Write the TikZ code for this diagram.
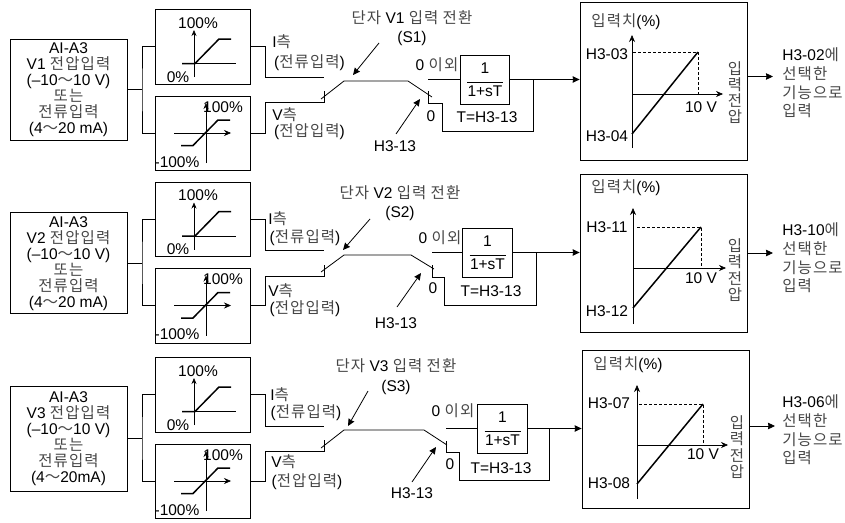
\documentclass[tikz,border=0pt]{standalone}
\usepackage{fontspec}
\setmainfont{Liberation Sans}
\newfontfamily\krfont[Scale=1.0,LetterSpace=7]{Noto Sans CJK KR}
\newcommand{\kr}[1]{{\krfont\color{black!72}#1}}
\newcommand{\wave}{{\krfont\color{black!72}～}}
\newcommand{\lagtext}{1\\[-7pt]\rule{36pt}{0.8pt}\\[-2.5pt]1+sT}
\usetikzlibrary{positioning, arrows.meta}

\begin{document}
\begin{tikzpicture}[
        x=1pt, y=-1pt, line width=0.8pt,
        lbl/.style={inner sep=0pt, align=center, font=\fontsize{15.5}{16}\selectfont},
        srcbox/.style={rectangle, draw, minimum width=117pt, minimum height=101pt, inner sep=0pt, align=center, font=\fontsize{15.5}{16}\selectfont},
        gainbox/.style={rectangle, draw, minimum width=95pt, minimum height=74.5pt},
        lagbox/.style={rectangle, draw, minimum width=49.5pt, minimum height=49pt, inner sep=0pt, align=center, font=\fontsize{15.5}{16}\selectfont},
        graphbox/.style={rectangle, draw, minimum width=167pt, minimum height=158pt},
        vertlbl/.style={lbl, font=\fontsize{15.5}{16.2}\selectfont},
        outlbl/.style={lbl, align=left, anchor=west, font=\fontsize{15.5}{18.7}\selectfont},
        wire/.style={line width=0.8pt},
        axis/.style={line width=0.6pt},
        curve/.style={line width=1.5pt},
        arr/.style={-{Stealth[length=7pt, width=6.5pt, inset=0.5pt]}, line width=0.8pt},
        guide/.style={densely dashed, line width=0.7pt},
    ]
        \useasboundingbox (0,0) rectangle (845,522);

        % Gain boxes of the three rows
        \foreach \r/\dy in {1/0,2/172.5,3/348}{
            \begin{scope}[shift={(0,\dy)}]
                \node[gainbox] (up\r) at (203,46.75) {};
                \node[gainbox] (dn\r) at (203,133.25) {};
                \draw[axis, -{Stealth[length=6pt, width=5pt]}] (194,77) -- (194,30);
                \draw[axis] (182,63.5) -- (236,63.5);
                \draw[curve] (182,63.5) -- (195,63.5) -- (219,39) -- (231,39);
                \node[lbl] (upmax\r) at (198,23) {100\%};
                \node[lbl] (upmin\r) at (178,77) {0\%};
                \draw[axis, -{Stealth[length=6pt, width=5pt]}] (206,163) -- (206,103);
                \draw[axis, -{Stealth[length=7pt, width=6pt]}] (174,133) -- (231,133);
                \draw[curve] (181,145.5) -- (193,145.5) -- (218,120) -- (230,120);
                \node[lbl] (dnmax\r) at (223,107) {100\%};
                \node[lbl] (dnmin\r) at (177,162) {-100\%};
            \end{scope}
        }

        % Row 1
        \node[srcbox] (src1) at (68.5,89.75) {AI-A3\\V1 \kr{전압입력}\\(--10\wave10 V)\\\kr{또는}\\\kr{전류입력}\\(4\wave20 mA)};
        \coordinate (j1) at (142,89.75);
        \draw[wire] (src1) -- (j1);
        \draw[wire] (up1.west) -| (j1) |- (dn1.west);
        \node[lbl, anchor=west] (iside1) at (272,42) {I\kr{측}};
        \node[lbl] (icur1) at (309.5,63) {(\kr{전류입력})};
        \node[lbl, anchor=west] (vside1) at (272,115) {V\kr{측}};
        \node[lbl] (vcur1) at (309.5,132) {(\kr{전압입력})};
        \coordinate (ion1) at (324,77);
        \coordinate (von1) at (324,102.5);
        \draw[wire] (up1.east) -- ++(14,0) |- (ion1);
        \draw[wire] (dn1.east) -- ++(14,0) |- (von1) -- ++(0,-12);
        \draw[wire] (321,99) -- (344,81) -- (408,81) -- (432,97);
        \node[lagbox] (lag1) at (485,79.5) {\lagtext};
        \node[graphbox] (gr1) at (663.5,81) {};
        \coordinate (sw1) at (428,79.5);
        \coordinate (off1) at (428,103);
        \draw[wire] (sw1) -- (lag1.west);
        \draw[wire] (428,91) -- (off1) -- (442,103) -- (442,131) -- (533,131) -- (533,79.5);
        \draw[arr] (lag1.east) -- (lag1.east -| gr1.west);
        \node[lbl] (labnz1) at (437,65) {0 \kr{이외}};
        \node[lbl] (labz1) at (431,116) {0};
        \node[lbl] (tau1) at (487,117) {T=H3-13};
        \node[lbl] (swname1) at (412,18) {\kr{단자} V1 \kr{입력} \kr{전환}};
        \node[lbl] (swid1) at (412,38) {(S1)};
        \node[lbl] (par1) at (395,146) {H3-13};
        \coordinate (swtip1) at (353,75);
        \coordinate (partip1) at (420,99);
        \draw[arr] (379,43) -- (swtip1);
        \draw[arr] (396,134) -- (partip1);
        \draw[axis, -{Stealth[length=7pt, width=6pt]}] (632,148) -- (632,35);
        \draw[axis, -{Stealth[length=7pt, width=6pt]}] (632,94) -- (723,94);
        \draw[curve] (632,134) -- (698,52);
        \draw[guide] (633,52) -- (698,52) -- (698,94);
        \node[lbl] (title1) at (626,22) {\kr{입력치}(\%)};
        \node[lbl] (top1) at (607,54) {H3-03};
        \node[lbl] (bot1) at (607,136) {H3-04};
        \node[lbl] (volt1) at (701,107) {10 V};
        \node[vertlbl] (xname1) at (735,92.5) {\kr{입}\\\kr{력}\\\kr{전}\\\kr{압}};
        \coordinate (out1) at (773,76.5);
        \draw[arr] (out1 -| gr1.east) -- (out1);
        \node[outlbl] (dest1) at (782,83) {H3-02\kr{에}\\\kr{선택한}\\\kr{기능으로}\\\kr{입력}};

        % Row 2
        \node[srcbox] (src2) at (68.5,263.25) {AI-A3\\V2 \kr{전압입력}\\(--10\wave10 V)\\\kr{또는}\\\kr{전류입력}\\(4\wave20 mA)};
        \coordinate (j2) at (142,263.25);
        \draw[wire] (src2) -- (j2);
        \draw[wire] (up2.west) -| (j2) |- (dn2.west);
        \node[lbl, anchor=west] (iside2) at (268,219) {I\kr{측}};
        \node[lbl] (icur2) at (305,238) {(\kr{전류입력})};
        \node[lbl, anchor=west] (vside2) at (268,290.5) {V\kr{측}};
        \node[lbl] (vcur2) at (305,308.5) {(\kr{전압입력})};
        \coordinate (ion2) at (324,250.7);
        \coordinate (von2) at (324,276);
        \draw[wire] (up2.east) -- ++(14,0) |- (ion2);
        \draw[wire] (dn2.east) -- ++(14,0) |- (von2) -- ++(0,-11);
        \draw[wire] (321,272) -- (344,255) -- (411,255) -- (434,269);
        \node[lagbox] (lag2) at (487.5,252.5) {\lagtext};
        \node[graphbox] (gr2) at (663.5,253) {};
        \coordinate (sw2) at (432,252.5);
        \coordinate (off2) at (432,277);
        \draw[wire] (sw2) -- (lag2.west);
        \draw[wire] (432,265) -- (off2) -- (444,277) -- (444,305) -- (536,305) -- (536,252.5);
        \draw[arr] (lag2.east) -- (lag2.east -| gr2.west);
        \node[lbl] (labnz2) at (440,238) {0 \kr{이외}};
        \node[lbl] (labz2) at (433,288) {0};
        \node[lbl] (tau2) at (491,291) {T=H3-13};
        \node[lbl] (swname2) at (400,193) {\kr{단자} V2 \kr{입력} \kr{전환}};
        \node[lbl] (swid2) at (400,213) {(S2)};
        \node[lbl] (par2) at (396,323) {H3-13};
        \coordinate (swtip2) at (343,250);
        \coordinate (partip2) at (421,273);
        \draw[arr] (370,219) -- (swtip2);
        \draw[arr] (397,307) -- (partip2);
        \draw[axis, -{Stealth[length=7pt, width=6pt]}] (633,324) -- (633,208);
        \draw[axis, -{Stealth[length=7pt, width=6pt]}] (633,268) -- (726,268);
        \draw[curve] (633,308) -- (701,227);
        \draw[guide] (637,227) -- (701,227) -- (701,268);
        \node[lbl] (title2) at (626,188) {\kr{입력치}(\%)};
        \node[lbl] (top2) at (607,227) {H3-11};
        \node[lbl] (bot2) at (607,311) {H3-12};
        \node[lbl] (volt2) at (701,278) {10 V};
        \node[vertlbl] (xname2) at (735,270) {\kr{입}\\\kr{력}\\\kr{전}\\\kr{압}};
        \coordinate (out2) at (773,253);
        \draw[arr] (out2 -| gr2.east) -- (out2);
        \node[outlbl] (dest2) at (782,258) {H3-10\kr{에}\\\kr{선택한}\\\kr{기능으로}\\\kr{입력}};

        % Row 3
        \node[srcbox, minimum height=104.5pt] (src3) at (68.5,438.75) {AI-A3\\V3 \kr{전압입력}\\(--10\wave10 V)\\\kr{또는}\\\kr{전류입력}\\(4\wave20mA)};
        \coordinate (j3) at (142,438.75);
        \draw[wire] (src3) -- (j3);
        \draw[wire] (up3.west) -| (j3) |- (dn3.west);
        \node[lbl, anchor=west] (iside3) at (270,395) {I\kr{측}};
        \node[lbl] (icur3) at (306,413) {(\kr{전류입력})};
        \node[lbl, anchor=west] (vside3) at (271,462) {V\kr{측}};
        \node[lbl] (vcur3) at (307,482) {(\kr{전압입력})};
        \coordinate (ion3) at (324,426);
        \coordinate (von3) at (324,451);
        \draw[wire] (up3.east) -- ++(14,0) |- (ion3);
        \draw[wire] (dn3.east) -- ++(14,0) |- (von3) -- ++(0,-11);
        \draw[wire] (321,448) -- (344,430) -- (424,430) -- (447,445);
        \node[lagbox] (lag3) at (502.5,428.5) {\lagtext};
        \node[graphbox] (gr3) at (665.5,429) {};
        \coordinate (sw3) at (446,428.5);
        \coordinate (off3) at (446,452);
        \draw[wire] (sw3) -- (lag3.west);
        \draw[wire] (446,441) -- (off3) -- (459,452) -- (459,480) -- (549,480) -- (549,428.5);
        \draw[arr] (lag3.east) -- (lag3.east -| gr3.west);
        \node[lbl] (labnz3) at (453,411) {0 \kr{이외}};
        \node[lbl] (labz3) at (450,464) {0};
        \node[lbl] (tau3) at (501,468) {T=H3-13};
        \node[lbl] (swname3) at (396,366) {\kr{단자} V3 \kr{입력} \kr{전환}};
        \node[lbl] (swid3) at (396,387) {(S3)};
        \node[lbl] (par3) at (412,493) {H3-13};
        \coordinate (swtip3) at (348,426);
        \coordinate (partip3) at (436,447);
        \draw[arr] (368,391) -- (swtip3);
        \draw[arr] (412,482) -- (partip3);
        \draw[axis, -{Stealth[length=7pt, width=6pt]}] (637,499) -- (637,385);
        \draw[axis, -{Stealth[length=7pt, width=6pt]}] (637,445) -- (728,445);
        \draw[curve] (637,484) -- (703,404);
        \draw[guide] (639,404) -- (703,404) -- (703,445);
        \node[lbl] (title3) at (628,365) {\kr{입력치}(\%)};
        \node[lbl] (top3) at (609,403) {H3-07};
        \node[lbl] (bot3) at (609,483) {H3-08};
        \node[lbl] (volt3) at (703,454) {10 V};
        \node[vertlbl] (xname3) at (737,447) {\kr{입}\\\kr{력}\\\kr{전}\\\kr{압}};
        \coordinate (out3) at (775,426);
        \draw[arr] (out3 -| gr3.east) -- (out3);
        \node[outlbl] (dest3) at (782,430) {H3-06\kr{에}\\\kr{선택한}\\\kr{기능으로}\\\kr{입력}};
    \end{tikzpicture}
\end{document}
